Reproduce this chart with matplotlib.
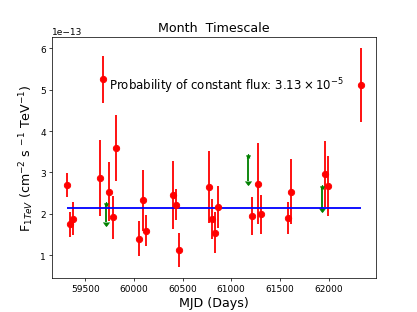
import matplotlib
matplotlib.use("Agg")
import matplotlib.pyplot as plt
import numpy as np

# Detections (MJD, flux in 1e-13, symmetric error in 1e-13)
mjd = [59312, 59343, 59373, 59654, 59685, 59747, 59781, 59812, 60049, 60090,
       60120, 60402, 60433, 60464, 60776, 60806, 60837, 60868, 61211, 61273,
       61304, 61585, 61619, 61959, 61990, 62332]
flux = [2.70, 1.74, 1.88, 2.86, 5.25, 2.53, 1.91, 3.60, 1.40, 2.32,
        1.59, 2.45, 2.22, 1.13, 2.65, 1.88, 1.54, 2.16, 1.95, 2.73,
        1.99, 1.90, 2.53, 2.97, 2.67, 5.12]
flux_err = [0.29, 0.31, 0.40, 0.92, 0.56, 0.71, 0.52, 0.80, 0.42, 0.74,
            0.37, 0.82, 0.37, 0.41, 0.87, 0.48, 0.50, 0.50, 0.46, 0.99,
            0.47, 0.39, 0.79, 0.80, 0.72, 0.90]

# Upper limits (MJD, upper value in 1e-13, arrow length in 1e-13)
ul_mjd = [59713, 61177, 61928]
ul_flux = [2.24, 3.40, 2.65]
ul_len = [0.45, 0.60, 0.52]

const_flux = 2.15  # 1e-13
scale = 1e-13

fig = plt.figure(figsize=(6.4, 4.8), dpi=65.2)
ax = fig.add_subplot(111)

ax.errorbar(mjd, np.array(flux) * scale, yerr=np.array(flux_err) * scale,
            fmt='o', color='red', ms=7, elinewidth=2, capsize=0)
ax.errorbar(ul_mjd, np.array(ul_flux) * scale, yerr=np.array(ul_len) * scale,
            uplims=True, fmt='*', color='green', ms=5, elinewidth=2)
ax.hlines(const_flux * scale, min(mjd), max(mjd), color='blue', lw=2)

ax.text(59750, 5.0e-13, r'Probability of constant flux: $3.13 \times 10^{-5}$',
        fontsize=13)
ax.set_title('Month  Timescale', fontsize=14)
ax.set_xlabel('MJD (Days)', fontsize=14)
ax.set_ylabel(r'F$_{1TeV}$ (cm$^{-2}$ s $^{-1}$ TeV$^{-1}$)', fontsize=14)

fig.savefig('out.png', dpi=65.2)
